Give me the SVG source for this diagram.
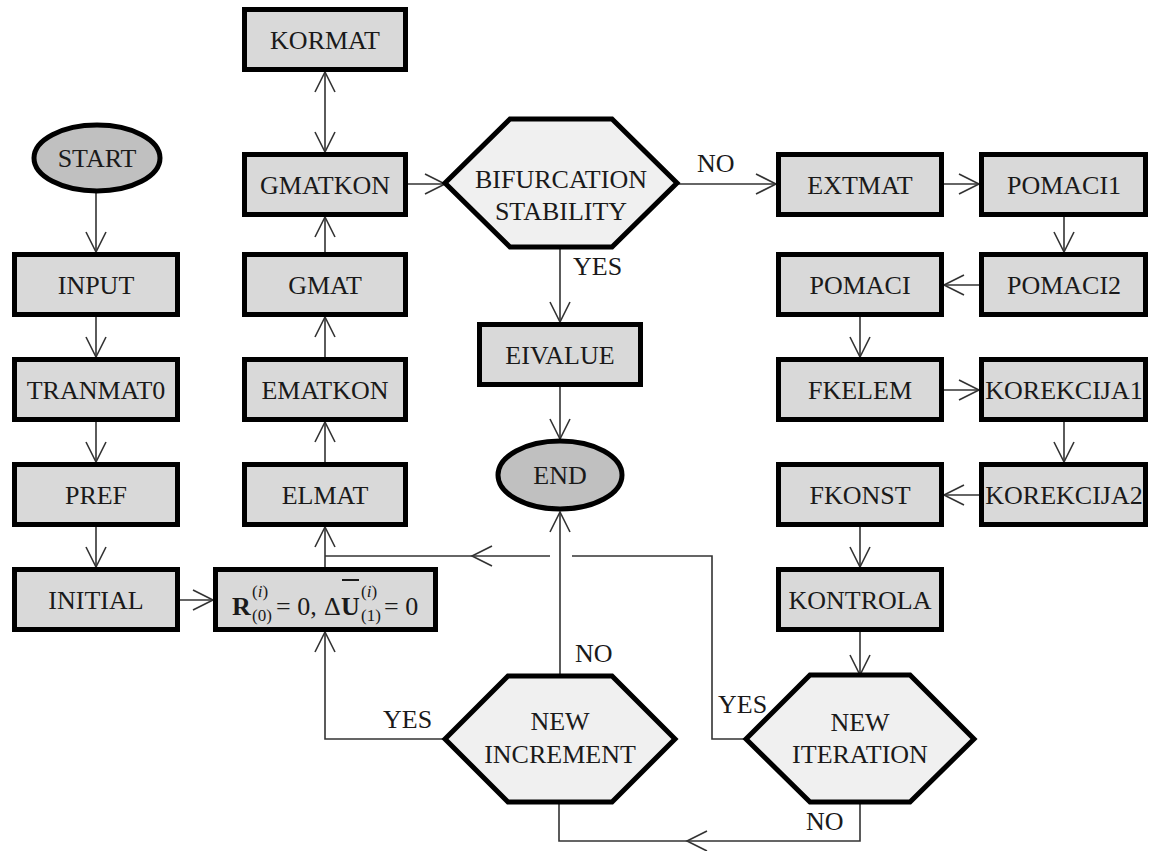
<svg xmlns="http://www.w3.org/2000/svg" width="1153" height="851" viewBox="0 0 1153 851">
<style>
.box{fill:#d9d9d9;stroke:#000;stroke-width:5}
.term{fill:#c0c0c0;stroke:#000;stroke-width:5}
.dec{fill:#f0f0f0;stroke:#000;stroke-width:5;stroke-linejoin:miter}
.t{font-family:"Liberation Serif","Times New Roman",serif;font-size:26px;fill:#1a1a1a;text-anchor:middle}
.lbl{font-family:"Liberation Serif","Times New Roman",serif;font-size:26px;fill:#1a1a1a}
.f{font-family:"Liberation Serif","Times New Roman",serif;fill:#1a1a1a}
.c{fill:none;stroke:#333;stroke-width:1.6}
.a{marker-end:url(#ah)}
</style>
<defs>
<marker id="ah" markerUnits="userSpaceOnUse" markerWidth="24" markerHeight="24" viewBox="-22 -12 24 24" refX="0" refY="0" orient="auto-start-reverse" overflow="visible">
<path d="M-20,-10 L0,0 L-20,10" fill="none" stroke="#333" stroke-width="1.6"/>
</marker>
</defs>

<g id="connectors">
<path class="c a" d="M96,193 V252"/>
<path class="c a" d="M96,317 V357"/>
<path class="c a" d="M96,422 V462"/>
<path class="c a" d="M96,527 V567"/>
<path class="c a" d="M180,600 H213"/>
<path class="c a" d="M325,567 V527"/>
<path class="c a" d="M325,462 V422"/>
<path class="c a" d="M325,357 V317"/>
<path class="c a" d="M325,252 V217"/>
<path class="c a" d="M325,72 V152" marker-start="url(#ah)"/>
<path class="c a" d="M408,184 H445"/>
<path class="c a" d="M677,184 H776"/>
<path class="c a" d="M560,247 V322"/>
<path class="c a" d="M560,387 V439"/>
<path class="c a" d="M944,184 H979"/>
<path class="c a" d="M1064,217 V252"/>
<path class="c a" d="M979,285 H944"/>
<path class="c a" d="M860,317 V357"/>
<path class="c a" d="M944,390 H979"/>
<path class="c a" d="M1064,422 V462"/>
<path class="c a" d="M979,495 H944"/>
<path class="c a" d="M860,527 V567"/>
<path class="c a" d="M860,632 V675"/>
<path class="c" d="M746,739 H712 V556 H572"/>
<path class="c a" d="M550,556 H472"/>
<path class="c" d="M472,556 H325"/>
<path class="c a" d="M560,676 V512"/>
<path class="c a" d="M445,739 H325 V632"/>
<path class="c a" d="M860,802 V841 H687"/>
<path class="c" d="M687,841 H559 V802"/>
</g>

<g id="labels">
<text class="lbl" x="697" y="172">NO</text>
<text class="lbl" x="573" y="275">YES</text>
<text class="lbl" x="575" y="662">NO</text>
<text class="lbl" x="383" y="728">YES</text>
<text class="lbl" x="718" y="713">YES</text>
<text class="lbl" x="806" y="830">NO</text>
</g>

<g id="start"><ellipse class="term" cx="97" cy="158" rx="63" ry="33"/><text class="t" x="97" y="167">START</text></g>
<g id="input"><rect class="box" x="14.5" y="254.5" width="163" height="60"/><text class="t" x="96" y="293.5">INPUT</text></g>
<g id="tranmat0"><rect class="box" x="14.5" y="359.5" width="163" height="60"/><text class="t" x="96" y="398.5">TRANMAT0</text></g>
<g id="pref"><rect class="box" x="14.5" y="464.5" width="163" height="60"/><text class="t" x="96" y="503.5">PREF</text></g>
<g id="initial"><rect class="box" x="14.5" y="569.5" width="163" height="60"/><text class="t" x="96" y="608.5">INITIAL</text></g>

<g id="kormat"><rect class="box" x="244.5" y="9.5" width="161" height="60"/><text class="t" x="325" y="48.5">KORMAT</text></g>
<g id="gmatkon"><rect class="box" x="244.5" y="154.5" width="161" height="60"/><text class="t" x="325" y="193.5">GMATKON</text></g>
<g id="gmat"><rect class="box" x="244.5" y="254.5" width="161" height="60"/><text class="t" x="325" y="293.5">GMAT</text></g>
<g id="ematkon"><rect class="box" x="244.5" y="359.5" width="161" height="60"/><text class="t" x="325" y="398.5">EMATKON</text></g>
<g id="elmat"><rect class="box" x="244.5" y="464.5" width="161" height="60"/><text class="t" x="325" y="503.5">ELMAT</text></g>

<g id="init-cond">
<rect class="box" x="215.5" y="569.5" width="220" height="60"/>
<text class="f" x="232" y="615" font-size="26" font-weight="bold">R</text>
<text class="f" x="252" y="597" font-size="17">(<tspan font-style="italic">i</tspan>)</text>
<text class="f" x="252" y="621" font-size="17">(0)</text>
<text class="f" x="276" y="615" font-size="26">= 0,</text>
<text class="f" x="324" y="615" font-size="26">Δ</text>
<text class="f" x="341" y="615" font-size="26" font-weight="bold">U</text>
<line x1="342" y1="580" x2="359" y2="580" stroke="#1a1a1a" stroke-width="2"/>
<text class="f" x="361" y="597" font-size="17">(<tspan font-style="italic">i</tspan>)</text>
<text class="f" x="361" y="621" font-size="17">(1)</text>
<text class="f" x="384" y="615" font-size="26">= 0</text>
</g>

<g id="bifurcation"><polygon class="dec" points="445,183 510,119 612,119 677,183 612,247 510,247"/><text class="t" x="561" y="188">BIFURCATION</text><text class="t" x="561" y="220">STABILITY</text></g>
<g id="eivalue"><rect class="box" x="479.5" y="324.5" width="161" height="60"/><text class="t" x="560" y="363.5">EIVALUE</text></g>
<g id="end"><ellipse class="term" cx="560" cy="475" rx="62" ry="34"/><text class="t" x="560" y="484">END</text></g>
<g id="new-increment"><polygon class="dec" points="445,739 508,676 612,676 675,739 612,802 508,802"/><text class="t" x="560" y="730">NEW</text><text class="t" x="560" y="763">INCREMENT</text></g>
<g id="new-iteration"><polygon class="dec" points="746,739 810,675 910,675 974,739 910,802 810,802"/><text class="t" x="860" y="731">NEW</text><text class="t" x="860" y="763">ITERATION</text></g>

<g id="extmat"><rect class="box" x="778.5" y="154.5" width="163" height="60"/><text class="t" x="860" y="193.5">EXTMAT</text></g>
<g id="pomaci"><rect class="box" x="778.5" y="254.5" width="163" height="60"/><text class="t" x="860" y="293.5">POMACI</text></g>
<g id="fkelem"><rect class="box" x="778.5" y="359.5" width="163" height="60"/><text class="t" x="860" y="398.5">FKELEM</text></g>
<g id="fkonst"><rect class="box" x="778.5" y="464.5" width="163" height="60"/><text class="t" x="860" y="503.5">FKONST</text></g>
<g id="kontrola"><rect class="box" x="778.5" y="569.5" width="163" height="60"/><text class="t" x="860" y="608.5">KONTROLA</text></g>

<g id="pomaci1"><rect class="box" x="981.5" y="154.5" width="164" height="60"/><text class="t" x="1064" y="193.5">POMACI1</text></g>
<g id="pomaci2"><rect class="box" x="981.5" y="254.5" width="164" height="60"/><text class="t" x="1064" y="293.5">POMACI2</text></g>
<g id="korekcija1"><rect class="box" x="981.5" y="359.5" width="164" height="60"/><text class="t" x="1064" y="398.5">KOREKCIJA1</text></g>
<g id="korekcija2"><rect class="box" x="981.5" y="464.5" width="164" height="60"/><text class="t" x="1064" y="503.5">KOREKCIJA2</text></g>
</svg>
